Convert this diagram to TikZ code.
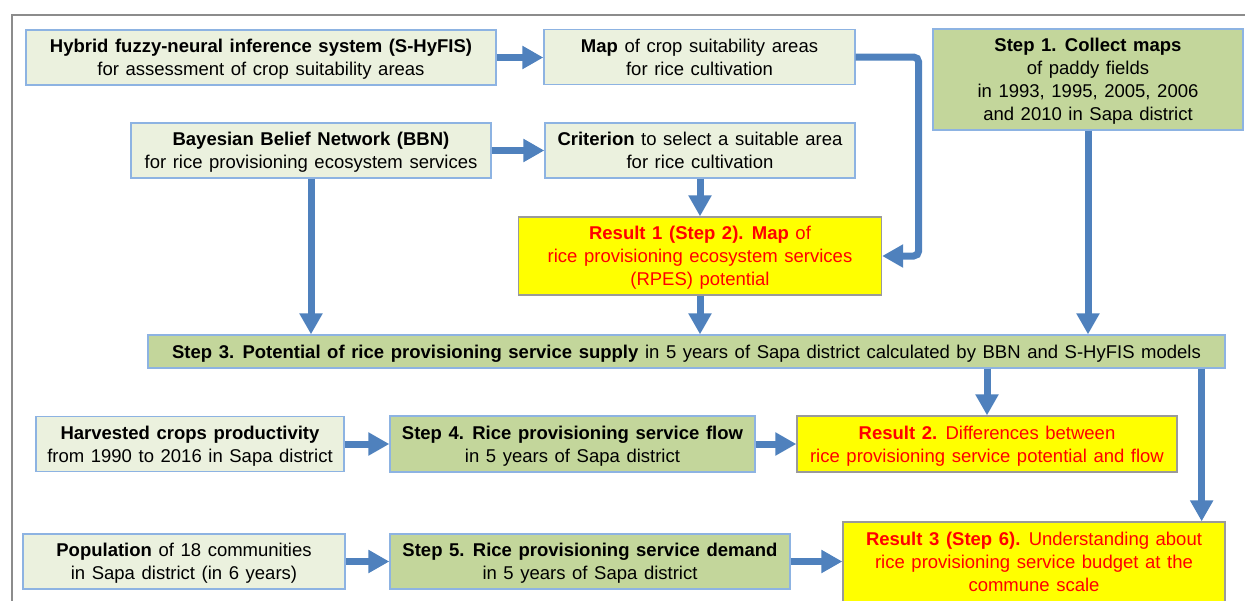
\documentclass[tikz,border=0pt]{standalone}
\usepackage{fontspec}
\setmainfont{Liberation Sans}
\usepackage{xcolor}
\usetikzlibrary{arrows.meta}
\definecolor{infill}{HTML}{EBF1DE}
\definecolor{stepfill}{HTML}{C3D69B}
\definecolor{resfill}{HTML}{FFFF00}
\definecolor{boxline}{HTML}{8DB3E2}
\definecolor{resline}{HTML}{9A9A9A}
\definecolor{arrowblue}{HTML}{4F81BD}
\definecolor{restext}{HTML}{FF0000}
\definecolor{frameline}{HTML}{8C8C8C}
\tikzset{
  base/.style={draw, line width=1.3pt, align=center, inner sep=0pt, text depth=0pt,
    font={\fontsize{18.5}{23}\selectfont\spaceskip=6.6pt\relax}},
  inbox/.style={base, draw=boxline, fill=infill},
  stepbox/.style={base, draw=boxline, fill=stepfill},
  resbox/.style={base, draw=resline, fill=resfill, text=restext},
  flow/.style={-{Triangle[width=22pt,length=21pt]}, line width=7pt, draw=arrowblue}
}

\begin{document}
\begin{tikzpicture}[x=1pt,y=1pt]
  \useasboundingbox (0,0) rectangle (1245,-600);
  \draw[frameline, line width=1.5pt] (1250,-15) -- (12,-15) -- (12,-610);

  % top block
  \node[inbox, minimum width=470pt, minimum height=55pt] (hyfis) at (261,-57.5)
    {\textbf{Hybrid fuzzy-neural inference system (S-HyFIS)}\\for assessment of crop suitability areas};
  \node[inbox, minimum width=311pt, minimum height=55pt] (mapcrop) at (699.5,-57)
    {\textbf{Map} of crop suitability areas\\for rice cultivation};
  \node[stepbox, minimum width=310pt, minimum height=101pt] (step1) at (1088,-79.5)
    {\textbf{Step 1. Collect maps}\\of paddy fields\\in 1993, 1995, 2005, 2006\\and 2010 in Sapa district};
  \node[inbox, minimum width=360pt, minimum height=55pt] (bbn) at (311,-150.5)
    {\textbf{Bayesian Belief Network (BBN)}\\for rice provisioning ecosystem services};
  \node[inbox, minimum width=310pt, minimum height=55pt] (crit) at (700,-150.5)
    {\textbf{Criterion} to select a suitable area\\for rice cultivation};
  \node[resbox, minimum width=363pt, minimum height=78pt] (res1) at (700,-256)
    {\textbf{Result 1 (Step 2). Map} of\\rice provisioning ecosystem services\\(RPES) potential};

  % step 3
  \node[stepbox, minimum width=1077pt, minimum height=33pt] (step3) at (686.5,-351.5)
    {\textbf{Step 3. Potential of rice provisioning service supply} in 5 years of Sapa district calculated by BBN and S-HyFIS models};

  % lower rows
  \node[inbox, minimum width=308pt, minimum height=55pt] (harv) at (190,-444)
    {\textbf{Harvested crops productivity}\\from 1990 to 2016 in Sapa district};
  \node[stepbox, minimum width=365pt, minimum height=56pt] (step4) at (572.5,-444)
    {\textbf{Step 4. Rice provisioning service flow}\\in 5 years of Sapa district};
  \node[resbox, minimum width=380pt, minimum height=56pt] (res2) at (987,-444)
    {\textbf{Result 2.} Differences between\\rice provisioning service potential and flow};
  \node[inbox, minimum width=322pt, minimum height=55pt] (popu) at (184,-561.5)
    {\textbf{Population} of 18 communities\\in Sapa district (in 6 years)};
  \node[stepbox, minimum width=400pt, minimum height=55pt] (step5) at (590,-561.5)
    {\textbf{Step 5. Rice provisioning service demand}\\in 5 years of Sapa district};
  \node[resbox, minimum width=382pt, minimum height=80pt] (res3) at (1034,-562)
    {\textbf{Result 3 (Step 6).} Understanding about\\rice provisioning service budget at the\\commune scale};

  % arrows
  \draw[flow] (hyfis.east) -- (hyfis.east -| mapcrop.west);
  \draw[flow] (bbn.east) -- (bbn.east -| crit.west);
  \draw[flow] (crit.south) -- (crit.south |- res1.north);
  \draw[flow, rounded corners=5pt] (mapcrop.east) -- ++(63,0) |- (res1.east);
  \draw[flow] (bbn.south) -- (bbn.south |- step3.north);
  \draw[flow] (res1.south) -- (res1.south |- step3.north);
  \draw[flow] (step1.south) -- (step1.south |- step3.north);
  \draw[flow] (res2.north |- step3.south) -- (res2.north);
  \draw[flow] ([xshift=-24pt]step3.south east) -- ([xshift=-24pt]res3.north east);
  \draw[flow] (harv.east) -- (harv.east -| step4.west);
  \draw[flow] (step4.east) -- (step4.east -| res2.west);
  \draw[flow] (popu.east) -- (popu.east -| step5.west);
  \draw[flow] (step5.east) -- (step5.east -| res3.west);
\end{tikzpicture}
\end{document}
